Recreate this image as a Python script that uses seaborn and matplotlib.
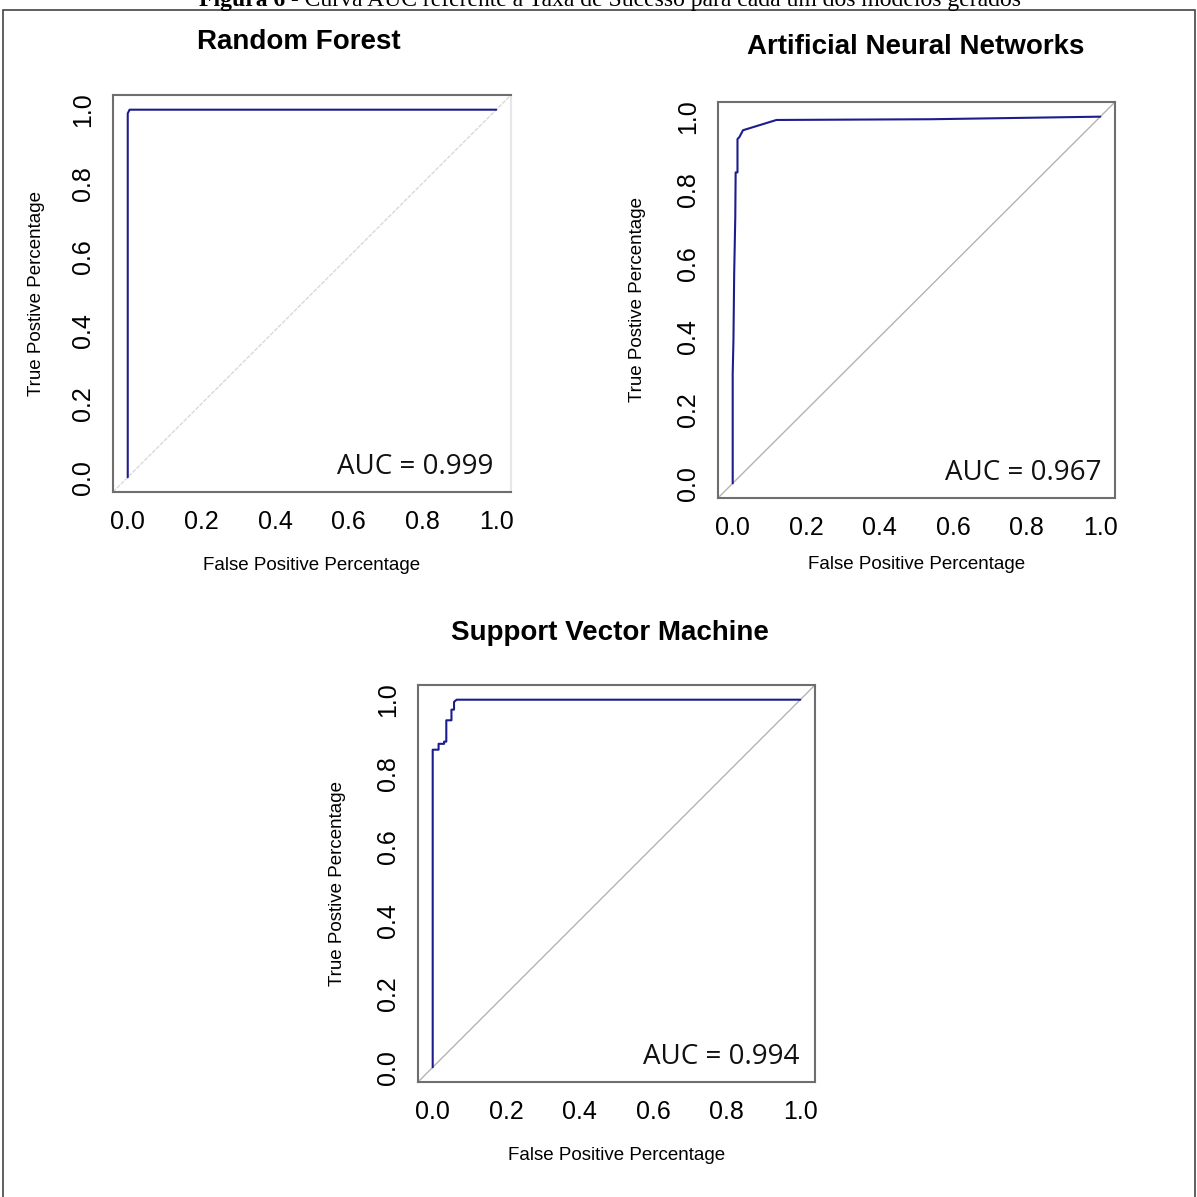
import numpy as np
import pandas as pd
import matplotlib
matplotlib.use("Agg")
import matplotlib.pyplot as plt
from matplotlib.patches import Rectangle
import seaborn as sns

# ROC curves (false positive rate, true positive rate)
rf_fpr = [0.0, 0.0, 0.005, 1.0]
rf_tpr = [0.0, 0.99, 1.0, 1.0]

ann_fpr = [0.0, 0.0, 0.002, 0.004, 0.007, 0.008, 0.013, 0.013, 0.018, 0.028, 0.119, 0.54, 1.0]
ann_tpr = [0.0, 0.30, 0.39, 0.57, 0.726, 0.848, 0.848, 0.939, 0.944, 0.963, 0.991, 0.993, 1.0]

svm_fpr = [0.0, 0.0, 0.016, 0.016, 0.031, 0.031, 0.037, 0.037, 0.051, 0.051,
           0.058, 0.058, 0.065, 1.0]
svm_tpr = [0.0, 0.864, 0.864, 0.880, 0.880, 0.886, 0.886, 0.944, 0.944, 0.973,
           0.973, 0.994, 1.0, 1.0]

titles = ["Random Forest", "Artificial Neural Networks", "Support Vector Machine"]
auc_values = [0.999, 0.967, 0.994]
tick_vals = [0.0, 0.2, 0.4, 0.6, 0.8, 1.0]
tick_labels = ["0.0", "0.2", "0.4", "0.6", "0.8", "1.0"]
caption_bold = "Figura 6"
caption_rest = " - Curva AUC referente à Taxa de Sucesso para cada um dos modelos gerados"

sns.set_style("white")
plt.rcParams["font.family"] = ["Liberation Sans", "DejaVu Sans"]
plt.rcParams["text.color"] = "black"
plt.rcParams["axes.labelcolor"] = "black"

W = 1197.0
fig = plt.figure(figsize=(11.97, 11.97), dpi=100)


def px_axes(left, top, right, bottom):
    return fig.add_axes([left / W, 1 - bottom / W, (right - left) / W, (bottom - top) / W])


# pixel boxes of the three plot regions
boxes = [(113, 95, 511, 492), (718, 102, 1115, 498), (418, 685, 815, 1082)]
title_pos = [(299, 42), (916, 47), (610, 633)]
auc_pos = [(0.955, 0.063), (0.967, 0.064), (0.960, 0.062)]
xlab_y = [-0.184, -0.169, -0.184]
diag_col = ["#d9d9d9", "#b3b3b3", "#b3b3b3"]
diag_ls = [(0, (3, 1)), "-", "-"]
curves = [(rf_fpr, rf_tpr), (ann_fpr, ann_tpr), (svm_fpr, svm_tpr)]

spine_col = "#6e6e6e"
for i, box in enumerate(boxes):
    ax = px_axes(*box)
    fpr, tpr = curves[i]
    df = pd.DataFrame({"fpr": fpr, "tpr": tpr})
    ax.axline((0, 0), (1, 1), color=diag_col[i], lw=1.0, ls=diag_ls[i], zorder=1)
    sns.lineplot(data=df, x="fpr", y="tpr", sort=False, estimator=None, ax=ax,
                 color="#1c1c8c", linewidth=1.5, zorder=3)
    ax.set_xlim(-0.04, 1.04)
    ax.set_ylim(-0.04, 1.04)
    ax.set_xticks(tick_vals)
    ax.set_xticklabels(tick_labels, fontsize=18)
    ax.set_yticks(tick_vals)
    ax.set_yticklabels(tick_labels, fontsize=18, rotation=90, va="center")
    ax.tick_params(axis="both", direction="out", length=7, width=1.2,
                   color=spine_col, labelcolor="black")
    ax.tick_params(axis="x", pad=6)
    ax.tick_params(axis="y", pad=6)
    for s in ax.spines.values():
        s.set_visible(True)
        s.set_color(spine_col)
        s.set_linewidth(1.5)
    if i == 0:
        ax.spines["right"].set_color("#e6e6e6")
        ax.tick_params(axis="x", color="#e0e0e0")
    ax.set_xlabel("False Positive Percentage", fontsize=13.5, va="center")
    ax.xaxis.set_label_coords(0.5, xlab_y[i])
    ax.set_ylabel("True Postive Percentage", fontsize=13.5, va="center")
    ax.yaxis.set_label_coords(-76 / 398 if i == 0 else -80 / 397, 0.5)
    ax.text(auc_pos[i][0], auc_pos[i][1], "AUC = %.3f" % auc_values[i],
            transform=ax.transAxes, ha="right", va="center", fontsize=20,
            family=["Open Sans", "DejaVu Sans"], color="#111111")
    fig.text(title_pos[i][0] / W, 1 - title_pos[i][1] / W, titles[i],
             ha="center", va="center", fontsize=20, fontweight="bold")

# caption (cut off at the top edge, as in the source) centred over the page
serif = ["Liberation Serif", "DejaVu Serif"]
t1 = fig.text(0, 1 - 6 / W, caption_bold, ha="left", va="baseline",
              fontsize=17, fontweight="bold", family=serif)
t2 = fig.text(0, 1 - 6 / W, caption_rest, ha="left", va="baseline",
              fontsize=17, family=serif)
renderer = fig.canvas.get_renderer()
w1 = t1.get_window_extent(renderer).width
w2 = t2.get_window_extent(renderer).width
start = 610 - (w1 + w2) / 2
t1.set_x(start / W)
t2.set_x((start + w1) / W)

fig.patches.append(Rectangle((3 / W, -0.05), 1192 / W, 1.05 - 10 / W,
                             transform=fig.transFigure, fill=False,
                             edgecolor="#444444", linewidth=1.2))

fig.savefig("out.png", dpi=100)
